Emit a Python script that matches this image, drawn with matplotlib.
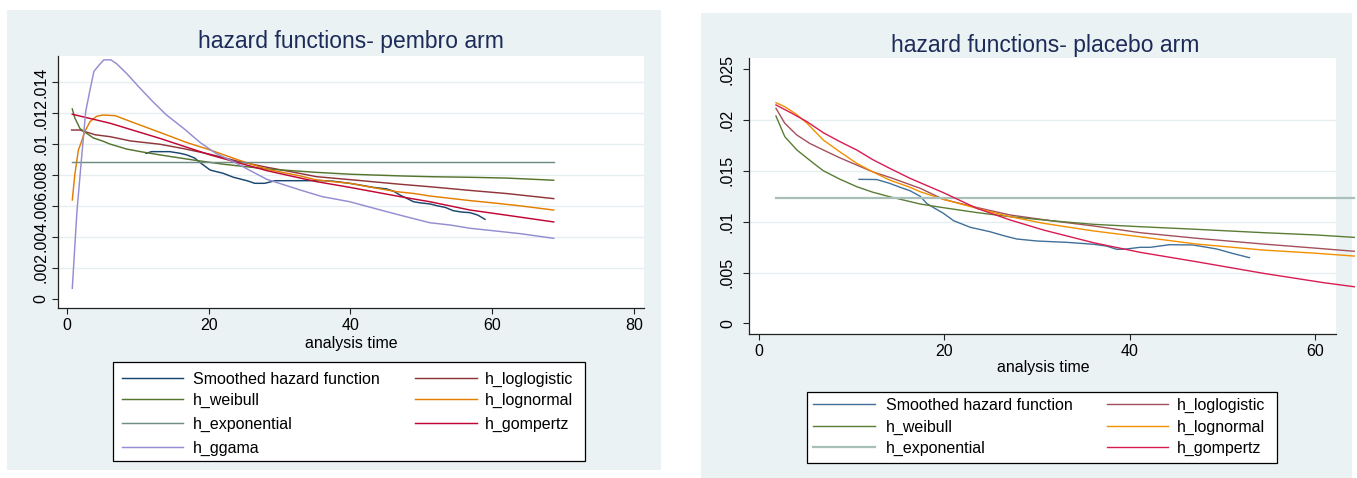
import matplotlib
matplotlib.use('Agg')
import matplotlib.pyplot as plt
from matplotlib.patches import Rectangle
from matplotlib.lines import Line2D

plt.rcParams['font.family'] = ['Liberation Sans', 'DejaVu Sans']

W, H, DPI = 1357, 478, 100

# ---------------- data: pembro arm (left) ----------------
t_smooth_L = [11.15, 11.95, 13.0, 14.5, 16.0, 16.9, 18.0, 18.8, 20.2, 22.1, 23.5, 25.4, 26.5, 27.9,
              29.4, 31.0, 34.3, 35.2, 37.5, 39.9, 42.0, 43.2, 45.1, 46.1, 47.0, 47.9,
              48.9, 49.8, 51.3, 52.2, 53.4, 54.5, 55.7, 56.9, 58.0, 59.0]
h_smooth_L = [0.0094, 0.00951, 0.00951, 0.00951, 0.0094, 0.0093, 0.0091, 0.0088, 0.00832, 0.0081,
              0.00785, 0.00763, 0.00746, 0.00746, 0.00763, 0.00763, 0.00763, 0.00765,
              0.0076, 0.00746, 0.0073, 0.0072, 0.0071, 0.00695, 0.0067, 0.0065, 0.00627, 0.0062,
              0.00612, 0.00601, 0.0059, 0.00569, 0.0056, 0.00556, 0.0054, 0.00513]

t_loglog_L = [0.66, 1.8, 4.0, 6.07, 9.0, 13.1, 16.5, 20.2, 24.0, 28.2, 32.9, 35.2, 39.9, 47.0, 51.2,
              56.9, 62.0, 68.7]
h_loglog_L = [0.01091, 0.01091, 0.0106, 0.01048, 0.0102, 0.00999, 0.0097, 0.00934, 0.0089, 0.0085,
              0.0081, 0.00789, 0.0077, 0.0074, 0.00724, 0.0070, 0.0068, 0.00647]

t_weib_L = [0.75, 1.1, 1.84, 2.77, 3.7, 5.0, 6.07, 8.4, 10.5, 13.1, 17.8, 22.0, 28.2, 35.2, 39.9,
            47.0, 51.2, 56.9, 62.0, 68.7]
h_weib_L = [0.01227, 0.0117, 0.0110, 0.0107, 0.0104, 0.0102, 0.0100, 0.00968, 0.0095, 0.0093,
            0.00897, 0.0087, 0.00839, 0.00817, 0.00805, 0.00794, 0.00789, 0.00785, 0.0078, 0.00766]

t_lnorm_L = [0.75, 1.1, 1.6, 2.0, 2.5, 3.25, 4.2, 5.1, 6.8, 8.4, 10.5, 13.1, 16.9, 20.2,
             24.0, 28.2, 32.9, 35.2, 39.9, 43.0, 46.5, 49.0, 51.2, 56.9, 60.0, 64.0, 68.7]
h_lnorm_L = [0.00638, 0.0080, 0.0096, 0.0101, 0.0108, 0.01145, 0.0118, 0.01188, 0.01184, 0.01156,
             0.0112, 0.01076, 0.0101, 0.00962, 0.0090, 0.00837, 0.00794, 0.00768, 0.00746,
             0.0072, 0.00692, 0.0068, 0.00664, 0.00634, 0.0062, 0.006, 0.00573]

t_expo_L = [0.75, 68.7]
h_expo_L = [0.00886, 0.00886]

t_gomp_L = [0.75, 6.07, 13.1, 20.2, 28.2, 35.2, 39.9, 47.0, 51.2, 56.9, 62.0, 68.7]
h_gomp_L = [0.01193, 0.01135, 0.01037, 0.0093, 0.00828, 0.00757, 0.0072, 0.0066, 0.00627, 0.00573,
            0.0054, 0.00496]

t_ggam_L = [0.75, 1.4, 2.0, 2.64, 3.2, 3.8, 4.5, 5.2, 6.2, 7.0, 8.4, 10.1, 12.0, 14.0, 16.5, 18.8,
            21.0, 23.5, 25.8, 28.2, 32.9, 36.0, 39.9, 43.7, 47.0, 51.2, 54.1, 56.9, 60.0, 64.0, 68.7]
h_ggam_L = [0.00067, 0.0056, 0.0088, 0.0121, 0.0134, 0.0147, 0.0151, 0.01545, 0.01545, 0.0152,
            0.01458, 0.01372, 0.0128, 0.0119, 0.0110, 0.0101, 0.0094, 0.00886, 0.0083, 0.00772,
            0.00703, 0.0066, 0.00627, 0.0058, 0.0054, 0.00491, 0.00476, 0.00455, 0.0044, 0.0042,
            0.0039]

# ---------------- data: placebo arm (right) ----------------
t_smooth_R = [10.8, 12.7, 14.1, 15.2, 16.3, 17.4, 18.1, 19.0, 19.9, 21.0, 22.8, 24.9, 26.5, 27.8,
              30.0, 33.2, 36.1, 37.5, 38.6, 39.5, 41.1, 42.2, 44.3, 46.8, 48.2, 49.4, 51.0, 52.9]
h_smooth_R = [0.01417, 0.01415, 0.01378, 0.0134, 0.01305, 0.0125, 0.0118, 0.0113, 0.01083, 0.0101,
              0.00945, 0.00902, 0.0086, 0.0083, 0.0081, 0.00797, 0.00778, 0.0076, 0.00728, 0.0073,
              0.00748, 0.00748, 0.00774, 0.00771, 0.0075, 0.00731, 0.0069, 0.00646]

t_loglog_R = [1.85, 2.8, 4.1, 5.5, 6.95, 8.7, 10.55, 12.3, 14.1, 17.4, 19.9, 23.5, 27.1, 31.5, 36.1,
              41.1, 47.2, 54.4, 60.0, 64.2]
h_loglog_R = [0.02116, 0.01969, 0.01853, 0.0177, 0.01706, 0.0163, 0.01558, 0.0149, 0.01437, 0.01329,
              0.0122, 0.0114, 0.01066, 0.0101, 0.00958, 0.00892, 0.00837, 0.0078, 0.0074, 0.00709]

t_weib_R = [1.85, 2.8, 4.1, 5.9, 6.95, 8.7, 10.55, 12.3, 14.1, 17.4, 19.9, 23.5, 27.1, 31.5, 36.1,
            41.1, 47.2, 54.4, 60.0, 64.2]
h_weib_R = [0.0204, 0.01837, 0.01706, 0.01575, 0.01502, 0.0142, 0.01345, 0.0129, 0.01246, 0.01174,
            0.01138, 0.0109, 0.01049, 0.0101, 0.00974, 0.00951, 0.00925, 0.00892, 0.0087, 0.00846]

t_lnorm_R = [1.85, 2.8, 4.0, 5.2, 6.95, 8.7, 10.55, 12.3, 14.1, 16.3, 17.4, 19.9, 23.5, 27.1, 30.7,
             36.1, 41.1, 47.2, 54.4, 60.0, 64.2]
h_lnorm_R = [0.02171, 0.02132, 0.0206, 0.01969, 0.01804, 0.0169, 0.01575, 0.0149, 0.0141, 0.01339,
             0.01295, 0.0122, 0.01132, 0.01049, 0.00984, 0.00909, 0.00852, 0.0078, 0.00721, 0.0069,
             0.00662]

t_expo_R = [1.85, 64.2]
h_expo_R = [0.01233, 0.01233]

t_gomp_R = [1.85, 3.5, 5.2, 6.95, 8.7, 10.55, 12.3, 14.1, 16.3, 19.9, 23.5, 27.1, 30.7, 36.1, 41.1,
            47.2, 54.4, 60.9, 64.2]
h_gomp_R = [0.02149, 0.0207, 0.01984, 0.01876, 0.0179, 0.01706, 0.0161, 0.01526, 0.01427, 0.01286,
            0.01132, 0.01017, 0.00918, 0.00793, 0.00699, 0.00606, 0.00492, 0.004, 0.0036]

# ---------------- labels / ticks ----------------
series_names = ["Smoothed hazard function", "h_loglogistic", "h_weibull", "h_lognormal",
                "h_exponential", "h_gompertz", "h_ggama"]
title_L = "hazard functions- pembro arm"
title_R = "hazard functions- placebo arm"
xlabel = "analysis time"
xticks_L = [0, 20, 40, 60, 80]
yticks_L = [0, 0.002, 0.004, 0.006, 0.008, 0.010, 0.012, 0.014]
yticklabels_L = ["0", ".002", ".004", ".006", ".008", ".01", ".012", ".014"]
xticks_R = [0, 20, 40, 60]
yticks_R = [0, 0.005, 0.010, 0.015, 0.020, 0.025]
yticklabels_R = ["0", ".005", ".01", ".015", ".02", ".025"]

colors_L = ['#1a476f', '#90353b', '#55752f', '#e37e00', '#6e8e84', '#c10534', '#938dd2']
colors_R = ['#40709a', '#a4505c', '#5a7d35', '#f39000', '#a9bfba', '#d81b50']

BG = '#eaf2f3'
GRID = '#e6eef0'
TITLE_C = '#1c2b58'

fig = plt.figure(figsize=(W / DPI, H / DPI), dpi=DPI)
fig.patch.set_facecolor('white')


def fx(px):
    return px / W


def fy(py):
    return 1 - py / H


def rect(l, t, r, b, **kw):
    fig.add_artist(Rectangle((fx(l), fy(b)), (r - l) / W, (b - t) / H,
                             transform=fig.transFigure, **kw))


# panel backgrounds
rect(7, 10, 661, 470, facecolor=BG, edgecolor='none', zorder=-5)
rect(701, 13, 1352, 478, facecolor=BG, edgecolor='none', zorder=-5)


def make_axes(l, t, r, b):
    ax = fig.add_axes([fx(l), fy(b), (r - l) / W, (b - t) / H])
    ax.set_facecolor('white')
    for s in ('top', 'right'):
        ax.spines[s].set_visible(False)
    for s in ('left', 'bottom'):
        ax.spines[s].set_linewidth(0.9)
        ax.spines[s].set_color('#222222')
    ax.tick_params(direction='out', length=4.4, width=0.8, labelsize=11.5,
                   colors='#222222', labelcolor='black')
    return ax


# ---------------- left panel ----------------
axL = make_axes(57.7, 56, 644, 307.7)
axL.set_xlim(-1.31, 81.44)
axL.set_ylim(-0.00059, 0.0157)
axL.set_xticks(xticks_L)
axL.set_yticks(yticks_L)
axL.set_yticklabels(yticklabels_L, rotation=90, va='center')
axL.tick_params(axis='x', pad=3.1)
axL.tick_params(axis='y', pad=2.4)
for yv in yticks_L[1:]:
    axL.axhline(yv, color=GRID, lw=1.0, zorder=0.5)

data_L = [(t_smooth_L, h_smooth_L), (t_loglog_L, h_loglog_L), (t_weib_L, h_weib_L),
          (t_lnorm_L, h_lnorm_L), (t_expo_L, h_expo_L), (t_gomp_L, h_gomp_L),
          (t_ggam_L, h_ggam_L)]
for (tt, hh), c in zip(data_L, colors_L):
    axL.plot(tt, hh, color=c, lw=1.05, solid_joinstyle='round')

fig.text(fx(350.9), fy(48.3), title_L, ha='center', va='baseline', fontsize=16.5, color=TITLE_C)
fig.text(fx(350.9), fy(348.3), xlabel, ha='center', va='baseline', fontsize=11.5)

# ---------------- right panel ----------------
axR = make_axes(748.7, 58.3, 1335.7, 334)
axR.set_xlim(-1.09, 62.2)
axR.set_ylim(-0.00105, 0.02608)
axR.set_xticks(xticks_R)
axR.set_yticks(yticks_R)
axR.set_yticklabels(yticklabels_R, rotation=90, va='center')
axR.tick_params(axis='x', pad=3.1)
axR.tick_params(axis='y', pad=5.5)
for yv in yticks_R[1:-1]:
    axR.axhline(yv, color=GRID, lw=1.0, zorder=0.5)

data_R = [(t_smooth_R, h_smooth_R), (t_loglog_R, h_loglog_R), (t_weib_R, h_weib_R),
          (t_lnorm_R, h_lnorm_R), (t_expo_R, h_expo_R), (t_gomp_R, h_gomp_R)]
lws_R = [1.0, 1.0, 1.0, 1.0, 1.6, 1.0]
for (tt, hh), c, lw in zip(data_R, colors_R, lws_R):
    axR.plot(tt, hh, color=c, lw=lw, clip_on=False, solid_joinstyle='round')

fig.text(fx(1045), fy(51.7), title_R, ha='center', va='baseline', fontsize=16.5, color=TITLE_C)
fig.text(fx(1043), fy(371.7), xlabel, ha='center', va='baseline', fontsize=11.5)


# ---------------- legends ----------------
def draw_legend(box, cols, rows, names, colors, lws):
    l, t, r, b = box
    rect(l, t, r, b, facecolor='white', edgecolor='black', lw=0.9, zorder=2)
    for i, (name, c, lw) in enumerate(zip(names, colors, lws)):
        row, col = divmod(i, 2)
        hx0, hx1, tx = cols[col]
        y = rows[row]
        fig.add_artist(Line2D([fx(hx0), fx(hx1)], [fy(y), fy(y)], transform=fig.transFigure,
                              color=c, lw=lw, zorder=3))
        fig.text(fx(tx), fy(y + 6), name, ha='left', va='baseline', fontsize=11.5, zorder=3)


draw_legend((113, 362, 585, 461), [(122, 183, 193), (415, 477, 485)],
            [377.7, 399.3, 422.7, 446.7], series_names, colors_L, [1.05] * 7)
draw_legend((806.7, 391.7, 1276.7, 463), [(813, 875, 886), (1106.7, 1168, 1176.7)],
            [404, 425.7, 446.7], series_names[:6], colors_R, lws_R)

fig.savefig('out.png', dpi=DPI, facecolor='white')
